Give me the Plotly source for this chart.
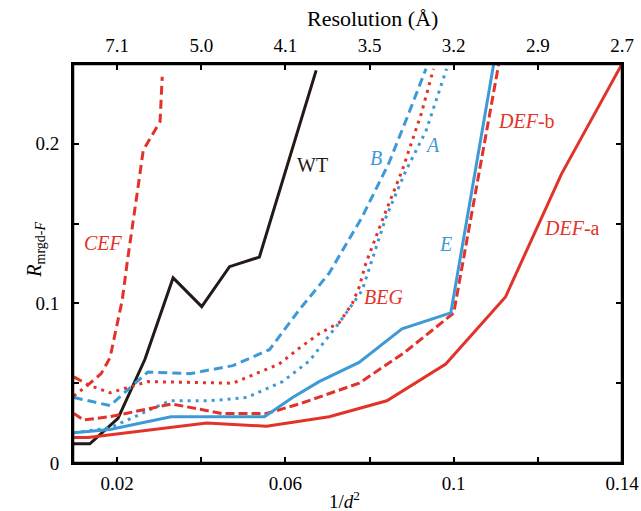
import plotly.graph_objects as go

# ---- data (1/d^2 , R_mrgd-F) ----
wt_x = [0.0097, 0.0135, 0.0202, 0.0266, 0.0333, 0.0401, 0.0467, 0.0538, 0.0673]
wt_y = [0.012, 0.012, 0.028, 0.065, 0.116, 0.098, 0.123, 0.129, 0.246]

cef_x = [0.0097, 0.0131, 0.0162, 0.0183, 0.0212, 0.0224, 0.0247, 0.0262, 0.0302, 0.0307]
cef_y = [0.054, 0.049, 0.056, 0.066, 0.102, 0.126, 0.168, 0.196, 0.214, 0.242]

b_x = [0.0097, 0.0183, 0.0273, 0.0373, 0.0475, 0.0562, 0.0633, 0.0704, 0.0782, 0.0846, 0.0893, 0.0934]
b_y = [0.041, 0.036, 0.057, 0.056, 0.061, 0.071, 0.096, 0.119, 0.154, 0.188, 0.219, 0.247]

beg_x = [0.0097, 0.0131, 0.0183, 0.0273, 0.0475, 0.0530, 0.0585, 0.0633, 0.0680, 0.0728, 0.0759, 0.0775, 0.0791, 0.0830, 0.0877, 0.0923, 0.0952]
beg_y = [0.042, 0.049, 0.044, 0.051, 0.050, 0.056, 0.062, 0.072, 0.081, 0.088, 0.100, 0.110, 0.125, 0.152, 0.183, 0.219, 0.247]

a_x = [0.0097, 0.0183, 0.0325, 0.0420, 0.0508, 0.0593, 0.0657, 0.0728, 0.0782, 0.0839, 0.0886, 0.0934, 0.0983]
a_y = [0.019, 0.022, 0.039, 0.039, 0.041, 0.051, 0.064, 0.088, 0.108, 0.154, 0.183, 0.208, 0.247]

e_x = [0.0097, 0.0183, 0.0328, 0.0550, 0.0617, 0.0680, 0.0775, 0.0877, 0.0993, 0.1095]
e_y = [0.019, 0.021, 0.029, 0.029, 0.041, 0.051, 0.063, 0.084, 0.094, 0.250]

defb_x = [0.0097, 0.0120, 0.0183, 0.0330, 0.0449, 0.0555, 0.0633, 0.0775, 0.0882, 0.1000, 0.1107]
defb_y = [0.031, 0.027, 0.029, 0.037, 0.031, 0.031, 0.037, 0.050, 0.069, 0.094, 0.250]

defa_x = [0.0097, 0.0131, 0.0413, 0.0555, 0.0704, 0.0841, 0.0981, 0.1123, 0.1256, 0.1400]
defa_y = [0.016, 0.016, 0.025, 0.023, 0.029, 0.039, 0.062, 0.104, 0.181, 0.250]

bottom_ticks = [0.02, 0.04, 0.06, 0.08, 0.10, 0.12, 0.14]
bottom_labels = ["0.02", "", "0.06", "", "0.1", "", "0.14"]
top_labels = ["7.1", "5.0", "4.1", "3.5", "3.2", "2.9", "2.7"]
y_ticks = [0, 0.05, 0.10, 0.15, 0.20]
y_labels = ["0", "", "0.1", "", "0.2"]

RED = "#E2332B"
BLUE = "#3D9AD6"
BLACK = "#231916"
FONT = "Liberation Serif"

series = [
    (wt_x, wt_y, BLACK, "solid"),
    (cef_x, cef_y, RED, "9px,5px"),
    (b_x, b_y, BLUE, "9px,5px"),
    (beg_x, beg_y, RED, "3px,5px"),
    (a_x, a_y, BLUE, "3px,5px"),
    (defb_x, defb_y, RED, "9px,4px"),
    (e_x, e_y, BLUE, "solid"),
    (defa_x, defa_y, RED, "solid"),
]

fig = go.Figure()
for xs, ys, col, dash in series:
    fig.add_trace(go.Scatter(x=xs, y=ys, mode="lines",
                             line=dict(color=col, width=3, dash=dash),
                             showlegend=False, hoverinfo="skip"))

# invisible trace to carry the top (resolution) axis
fig.add_trace(go.Scatter(x=bottom_ticks, y=[None] * len(bottom_ticks), xaxis="x2",
                         mode="lines", showlegend=False, hoverinfo="skip"))

labels = [
    ("<i>CEF</i>", 0.0167, 0.138, RED),
    ("WT", 0.0664, 0.187, BLACK),
    ("<i>B</i>", 0.0815, 0.191, BLUE),
    ("<i>A</i>", 0.0950, 0.199, BLUE),
    ("<i>DEF</i>-b", 0.1172, 0.214, RED),
    ("<i>E</i>", 0.0981, 0.1375, BLUE),
    ("<i>DEF</i>-a", 0.1282, 0.147, RED),
    ("<i>BEG</i>", 0.0832, 0.104, RED),
]
for txt, lx, ly, col in labels:
    fig.add_annotation(x=lx, y=ly, xref="x", yref="y", text=txt, showarrow=False,
                       xanchor="center", yanchor="middle",
                       font=dict(family=FONT, size=20, color=col))

fig.add_annotation(x=-0.069, y=0.535, xref="paper", yref="paper", textangle=-90,
                   xanchor="center", yanchor="middle",
                   text="<i>R</i><sub>mrgd-<i>F</i></sub>", showarrow=False,
                   font=dict(family=FONT, size=20, color="black"))
fig.add_annotation(x=0.495, y=-0.093, xref="paper", yref="paper",
                   xanchor="center", yanchor="middle",
                   text="1/<i>d</i><sup>2</sup>", showarrow=False,
                   font=dict(family=FONT, size=19, color="black"))
fig.add_annotation(x=0.545, y=1.115, xref="paper", yref="paper",
                   xanchor="center", yanchor="middle",
                   text="Resolution (Å)", showarrow=False,
                   font=dict(family=FONT, size=22, color="black"))

# plot frame
fig.add_shape(type="rect", xref="paper", yref="paper", x0=0, y0=0, x1=1, y1=1,
              line=dict(color="black", width=2.5), layer="above")

xr = [0.0095, 0.14]
fig.update_layout(
    width=641, height=511, autosize=False,
    margin=dict(l=73, r=19, t=64, b=48, autoexpand=False),
    paper_bgcolor="white", plot_bgcolor="white",
    font=dict(family=FONT, size=19, color="black"),
    xaxis=dict(range=xr, tickvals=bottom_ticks, ticktext=bottom_labels,
               ticks="inside", ticklen=6, tickwidth=2, tickcolor="black",
               showline=True, linecolor="black", linewidth=2, mirror=True,
               showgrid=False, zeroline=False, ticklabelstandoff=2,
               automargin=False),
    xaxis2=dict(range=xr, overlaying="x", side="top", matches="x",
                tickvals=bottom_ticks, ticktext=top_labels,
                ticks="inside", ticklen=6, tickwidth=2, tickcolor="black",
                showline=False, showgrid=False, zeroline=False,
                ticklabelstandoff=7, automargin=False),
    yaxis=dict(range=[0, 0.25], tickvals=y_ticks, ticktext=y_labels,
               ticks="inside", ticklen=6, tickwidth=2, tickcolor="black",
               showline=True, linecolor="black", linewidth=2, mirror="ticks",
               showgrid=False, zeroline=False, ticklabelstandoff=8,
               automargin=False),
)

fig.write_html(
    "out.html",
    config={"displayModeBar": False, "responsive": False},
    post_script="document.body.style.margin='0px';"
                "document.body.style.overflow='hidden';"
                "document.documentElement.style.overflow='hidden';",
)
